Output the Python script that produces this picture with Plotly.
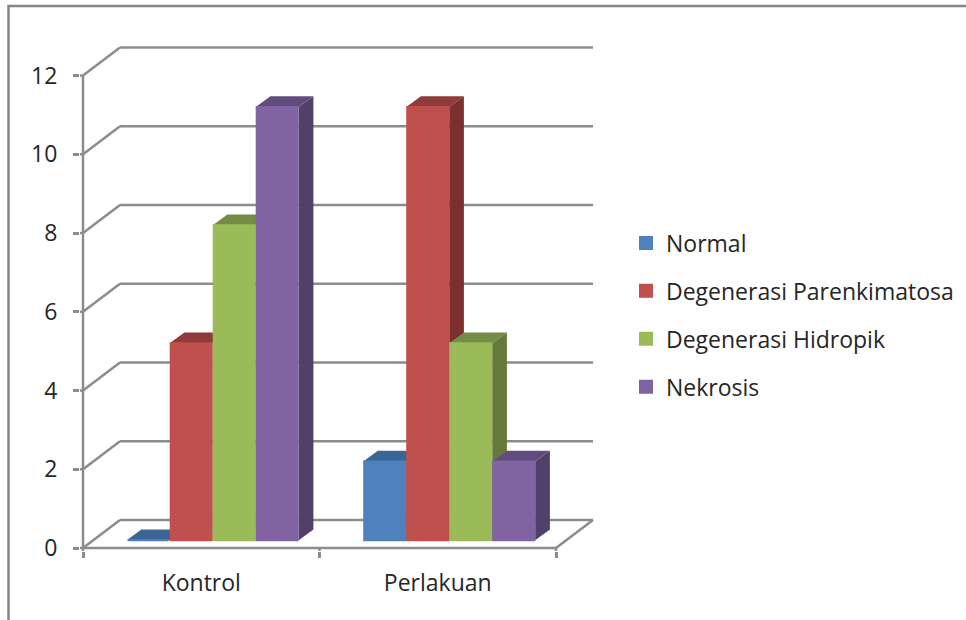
import plotly.graph_objects as go

categories = ["Kontrol", "Perlakuan"]
series_names = ["Normal", "Degenerasi Parenkimatosa", "Degenerasi Hidropik", "Nekrosis"]
normal = [0, 2]
parenkimatosa = [5, 11]
hidropik = [8, 5]
nekrosis = [11, 2]
y_ticks = [0, 2, 4, 6, 8, 10, 12]

series_values = [normal, parenkimatosa, hidropik, nekrosis]
front_colors = ["#4F81BD", "#C0504D", "#9BBB59", "#8064A2"]
top_colors = ["#3B6594", "#8E3B39", "#748C44", "#624C7D"]
side_colors = ["#335580", "#7B302E", "#657A3A", "#523F6A"]

GRID = "#8C8C8C"
GRID_W = 2.5
TEXT = "#262626"
FONT = "Open Sans"
FONT_SIZE = 23

W, H = 966, 620
X0, Y0 = 83, 548               # screen position of the chart origin
L, R, T, B = 80, 597, 44, 551  # plot area on screen, slightly beyond the axes so lines are not clipped
UX, UY = 236.5, 39.37          # pixels per category / per value unit
x_min, x_max = (L - X0) / UX, (R - X0) / UX
y_min, y_max = (Y0 - B) / UY, (Y0 - T) / UY

DEPTH_X, DEPTH_Y = 37 / UX, 28 / UY        # wall depth
BAR_DX, BAR_DY = 14.7 / UX, 10.7 / UY      # bar depth
BAR_STEP = 43 / UX
BAR_W = 41 / UX
BAR_START = 43.7 / UX
BAR_BASE = 0.2


def poly(points, fill):
    path = "M" + "L".join(f"{x},{y}" for x, y in points) + "Z"
    return dict(type="path", path=path, xref="x", yref="y", layer="below",
                fillcolor=fill, line=dict(width=0))


def seg(x0, y0, x1, y1):
    return dict(type="line", xref="x", yref="y", layer="below", x0=x0, y0=y0, x1=x1, y1=y1,
                line=dict(color=GRID, width=GRID_W))


shapes = []
n_cat = len(categories)
# walls: back gridlines, slanted connectors, and the tick stubs up to the axis lines
for v in y_ticks:
    shapes.append(seg(DEPTH_X, v + DEPTH_Y, n_cat + DEPTH_X, v + DEPTH_Y))
    shapes.append(seg(0, v, DEPTH_X, v + DEPTH_Y))
    shapes.append(seg(x_min, v, 0, v))
for c in range(n_cat + 1):
    shapes.append(seg(c, y_min, c, 0))
# front axes and right floor edge
shapes.append(seg(0, 0, 0, max(y_ticks)))
shapes.append(seg(0, 0, n_cat, 0))
shapes.append(seg(n_cat, 0, n_cat + DEPTH_X, DEPTH_Y))

# bar tops and sides
for i, vals in enumerate(series_values):
    for c, v in enumerate(vals):
        x0 = c + BAR_START + i * BAR_STEP
        x1 = x0 + BAR_STEP
        y0 = BAR_BASE
        yt = BAR_BASE + v
        shapes.append(poly([(x0, yt), (x1, yt), (x1 + BAR_DX, yt + BAR_DY), (x0 + BAR_DX, yt + BAR_DY)],
                           top_colors[i]))
        if v > 0:
            shapes.append(poly([(x1, y0), (x1 + BAR_DX, y0 + BAR_DY), (x1 + BAR_DX, yt + BAR_DY), (x1, yt)],
                               side_colors[i]))

# outer picture frame (paper coordinates)
fx = (8.5 - L) / (R - L)
fy_top = (B - 6) / (B - T)
fy_bot = (B - H) / (B - T)
shapes.append(dict(type="path", xref="paper", yref="paper", layer="below",
                   path=f"M{fx},{fy_bot}L{fx},{fy_top}L{(W - L) / (R - L)},{fy_top}",
                   line=dict(color="#868686", width=2.5)))

fig = go.Figure()
for i, (name, vals) in enumerate(zip(series_names, series_values)):
    fig.add_trace(go.Bar(
        name=name,
        legendgroup=name,
        x=[c + BAR_START + (i + 0.5) * BAR_STEP for c in range(n_cat)],
        y=vals,
        base=BAR_BASE,
        width=BAR_W,
        marker=dict(color=front_colors[i], line=dict(color=front_colors[i], width=2)),
    ))

fig.update_layout(
    width=W, height=H, autosize=False,
    margin=dict(l=L, r=W - R, t=T, b=H - B, pad=0, autoexpand=False),
    paper_bgcolor="white", plot_bgcolor="rgba(0,0,0,0)",
    barmode="overlay",
    font=dict(family=FONT, size=FONT_SIZE, color=TEXT),
    shapes=shapes,
    showlegend=True,
    legend=dict(x=(626 - L) / (R - L), xanchor="left", y=(B - 315) / (B - T), yanchor="middle",
                traceorder="grouped", tracegroupgap=15, bgcolor="rgba(0,0,0,0)",
                font=dict(family=FONT, size=FONT_SIZE, color=TEXT)),
    xaxis=dict(range=[x_min, x_max], showgrid=False, zeroline=False, showline=False, fixedrange=True,
               tickmode="array", tickvals=[c + 0.5 for c in range(n_cat)], ticktext=categories,
               ticks="outside", ticklen=6, tickcolor="rgba(0,0,0,0)", ticklabelstandoff=5,
               minor=dict(tickmode="array", tickvals=list(range(n_cat + 1)), ticks="outside",
                          ticklen=6, tickwidth=GRID_W, tickcolor=GRID, showgrid=False)),
    yaxis=dict(range=[y_min, y_max], showgrid=False, zeroline=False, showline=False, fixedrange=True,
               tickmode="array", tickvals=y_ticks, ticks="outside", ticklen=6, tickwidth=GRID_W,
               tickcolor=GRID, ticklabelstandoff=11),
)

fig.write_html("out.html", config={"displayModeBar": False},
               post_script="document.body.style.margin='0';")
